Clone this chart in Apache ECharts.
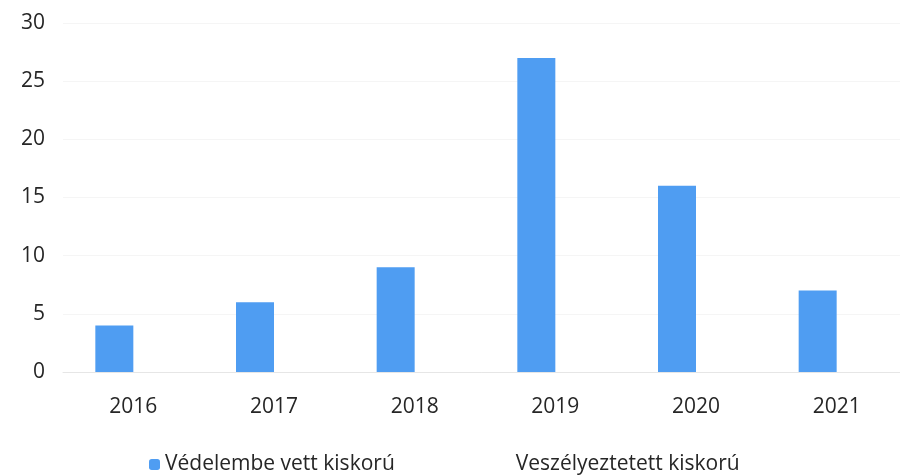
<!DOCTYPE html>
<html><head><meta charset="utf-8">
<script src="https://cdn.jsdelivr.net/npm/echarts@6/dist/echarts.min.js"></script>
<style>html,body{margin:0;padding:0;background:#fff}#c{width:900px;height:475px}</style>
</head><body><div id="c"></div>
<script>
const categories = ['2016','2017','2018','2019','2020','2021'];
const seriesNames = ['Védelembe vett kiskorú','Veszélyeztetett kiskorú'];
const vedelembe = [4, 6, 9, 27, 16, 7];
const veszelyeztetett = [0, 0, 0, 0, 0, 0];
const yTicks = {min: 0, max: 30, interval: 5};

const chart = echarts.init(document.getElementById('c'));
const font = 'Open Sans, Noto Sans, sans-serif';
chart.setOption({
  animation: false,
  grid: {left: 63, width: 844, top: 23, bottom: 103, containLabel: false, outerBoundsMode: 'none'},
  legend: {
    bottom: -5, left: 144,
    itemWidth: 11, itemHeight: 11, itemGap: 105,
    textStyle: {fontFamily: font, fontSize: 21, color: '#262626'},
    data: seriesNames
  },
  xAxis: {
    type: 'category', data: categories,
    axisLine: {lineStyle: {color: '#e6e6e6'}},
    axisTick: {show: false},
    axisLabel: {fontFamily: font, fontSize: 21, color: '#262626', margin: 25}
  },
  yAxis: {
    type: 'value', min: yTicks.min, max: yTicks.max, interval: yTicks.interval,
    axisLine: {show: false}, axisTick: {show: false},
    splitLine: {lineStyle: {color: '#f5f5f5'}},
    axisLabel: {fontFamily: font, fontSize: 21, color: '#262626', margin: 18}
  },
  series: [
    {name: seriesNames[0], type: 'bar', data: vedelembe, barWidth: 38, barGap: '0%',
     itemStyle: {color: '#4f9df2'}},
    {name: seriesNames[1], type: 'bar', data: veszelyeztetett, barWidth: 38,
     itemStyle: {color: '#ffffff'}}
  ]
});
</script></body></html>
